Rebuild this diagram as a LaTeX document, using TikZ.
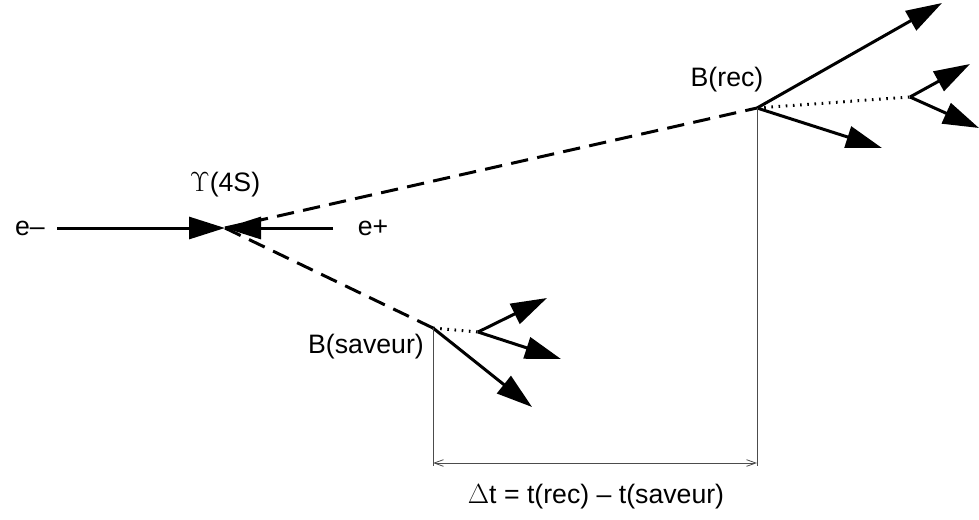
\documentclass[tikz,border=0pt]{standalone}
\usepackage{amsmath}
\usepackage{fontspec}
\setmainfont{Liberation Sans}
\usepackage{tikz}
\usetikzlibrary{arrows.meta}

\tikzset{
  lbl/.style={font=\fontsize{20}{24}\selectfont, inner sep=0pt},
  track/.style={line width=2.25pt, -{Triangle[length=27pt,width=16.5pt]}},
  meson/.style={line width=2.25pt, dash pattern=on 13pt off 7pt},
  decay/.style={line width=2.25pt, dash pattern=on 1.2pt off 4.2pt},
  guide/.style={line width=0.6pt, black!70}
}

\begin{document}
\begin{tikzpicture}[x=0.75pt,y=-0.75pt]
\useasboundingbox (0,0) rectangle (979,519);
% collision point and the two B mesons
\coordinate (V) at (225,228);
\coordinate (Brec) at (757,108);
\coordinate (Bsav) at (433,328);
\coordinate (Drec) at (910,97);
\coordinate (Dsav) at (478,332);
% beams
\node[lbl] (em) at (30,228) {e--};
\node[lbl] (ep) at (373,228) {e+};
\node[lbl] (ups) at (225,185) {$\Upsilon$(4S)};
\coordinate (emS) at (57,228);
\coordinate (epS) at (333,228);
\draw[track] (emS) -- (V);
\draw[track] (epS) -- (V);
\draw[meson] (V) -- (Brec);
\draw[meson] (V) -- (Bsav);
% B(rec) side
\node[lbl] (lrec) at (727,80) {B(rec)};
\coordinate (r1) at (942,3);
\coordinate (r2) at (882,148);
\coordinate (r3) at (970,64);
\coordinate (r4) at (979,128);
\draw[track] (Brec) -- (r1);
\draw[track] (Brec) -- (r2);
\draw[decay] (Brec) -- (Drec);
\draw[track] (Drec) -- (r3);
\draw[track] (Drec) -- (r4);
% B(saveur) side
\node[lbl] (lsav) at (366,347) {B(saveur)};
\coordinate (s1) at (532,407);
\coordinate (s2) at (547,298);
\coordinate (s3) at (561,359);
\draw[track] (Bsav) -- (s1);
\draw[decay] (Bsav) -- (Dsav);
\draw[track] (Dsav) -- (s2);
\draw[track] (Dsav) -- (s3);
% time difference
\coordinate (Fsav) at (433,466);
\coordinate (Frec) at (757,466);
\coordinate (Asav) at (433,463);
\coordinate (Arec) at (757,463);
\draw[guide] (Bsav) -- (Fsav);
\draw[guide] (Brec) -- (Frec);
\draw[guide, {Straight Barb[length=7pt,width=5pt]}-{Straight Barb[length=7pt,width=5pt]}] (Asav) -- (Arec);
\node[lbl] (dt) at (596,497) {$\Delta$t = t(rec) -- t(saveur)};
\end{tikzpicture}
\end{document}
